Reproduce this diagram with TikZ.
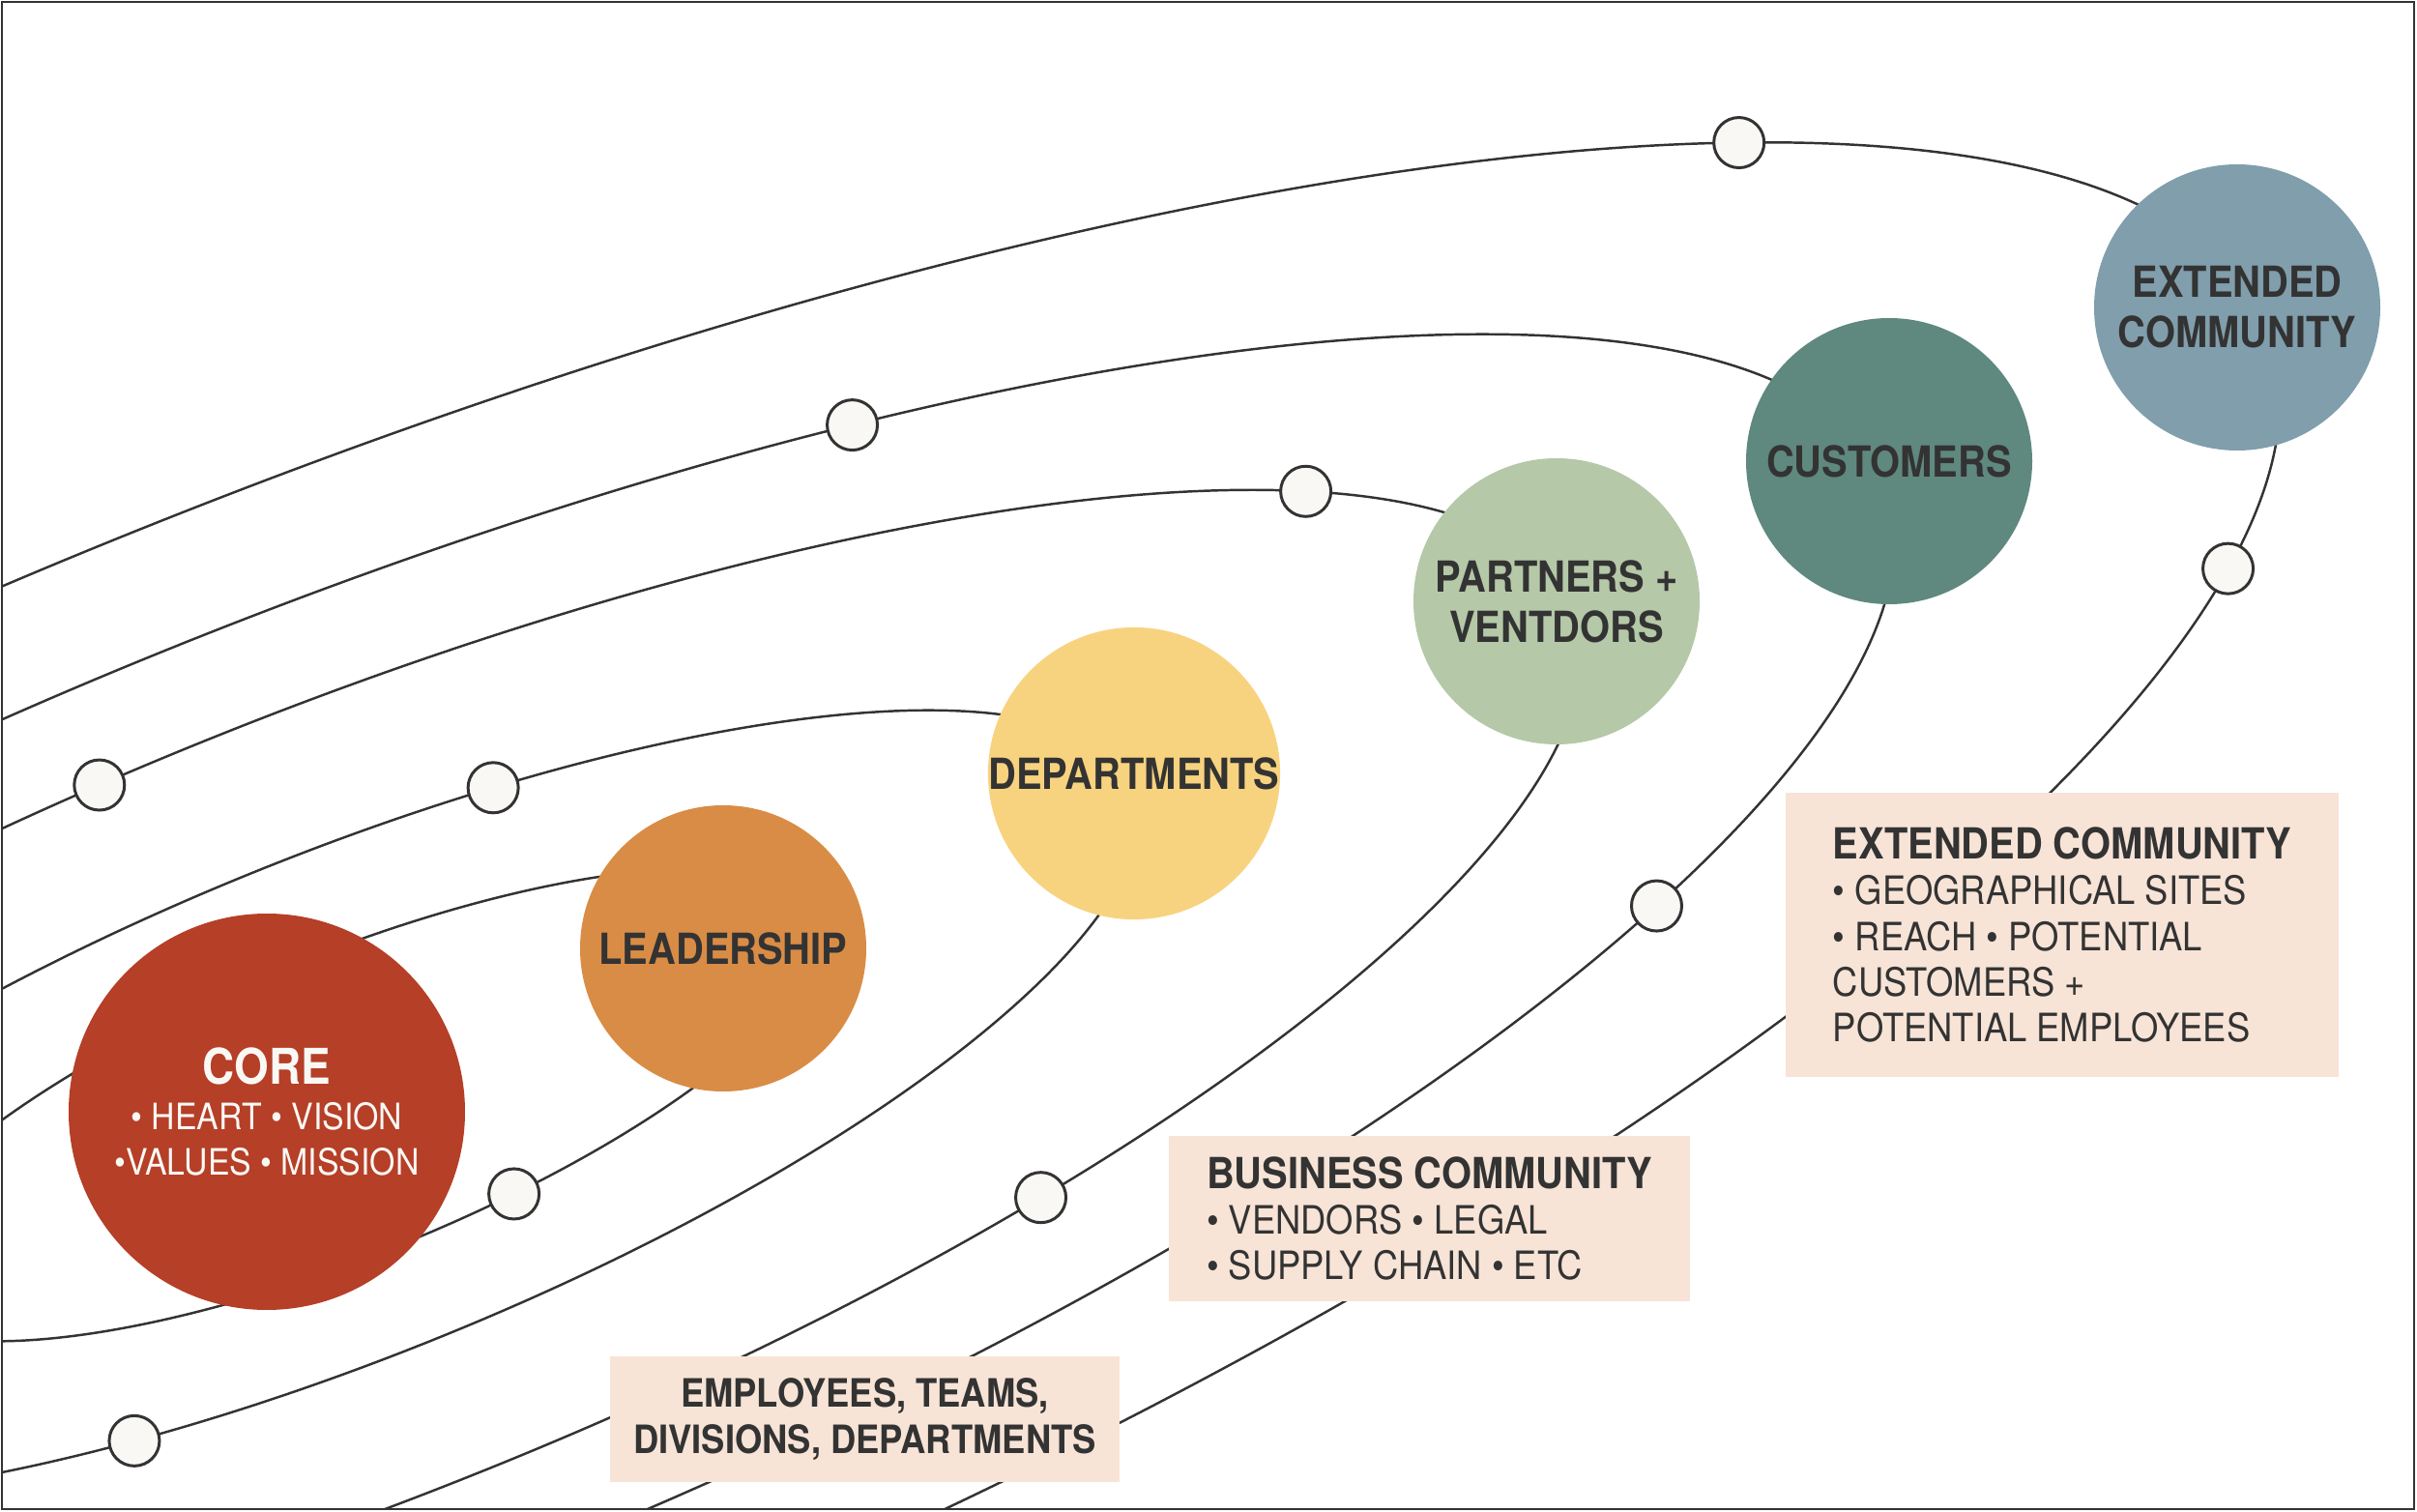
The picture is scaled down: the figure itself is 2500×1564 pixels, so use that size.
\documentclass[tikz,border=0pt]{standalone}
\usepackage{fontspec}
\setmainfont{TeX Gyre Heros}[FakeStretch=0.9]
\usepackage{xcolor}
\usetikzlibrary{backgrounds}

\definecolor{ink}{HTML}{333333}
\definecolor{corered}{HTML}{B53F27}
\definecolor{leadorange}{HTML}{D98C45}
\definecolor{deptyellow}{HTML}{F8D37F}
\definecolor{partnergreen}{HTML}{B5C8A8}
\definecolor{custteal}{HTML}{5F887E}
\definecolor{extblue}{HTML}{809EAC}
\definecolor{boxpeach}{HTML}{F7E4D7}
\definecolor{moonwhite}{HTML}{FAF8F5}

\begin{document}
\begin{tikzpicture}[x=0.1mm, y=-0.1mm,
    planet/.style={circle, minimum size=2.96cm, inner sep=0pt, align=center, text=ink, font=\fontsize{12.6}{14.8}\selectfont\bfseries},
    moon/.style={circle, draw=ink, line width=0.85pt, fill=moonwhite, minimum size=0.52cm, inner sep=0pt},
    infobox/.style={fill=boxpeach, inner sep=0pt, text=ink, font=\fontsize{11.5}{13.4}\selectfont},
    orbit/.style={draw=ink, line width=0.7pt},
    orbitplane/.style={shift={(358,1143)}, x=0.1mm, y=0.1mm, rotate=22.07}]
    \useasboundingbox (0,0) rectangle (2500,1564);

    % Planets
    \node (core) [planet, fill=corered, minimum size=4.1cm, text=moonwhite, font=\fontsize{10.7}{13.3}\selectfont] at (276,1150) {{\fontsize{14.5}{13.3}\selectfont\bfseries CORE}\\• HEART • VISION\\•VALUES • MISSION};
    \node (lead) [planet, fill=leadorange] at (748,981) {LEADERSHIP};
    \node (dept) [planet, fill=deptyellow] at (1173,800) {DEPARTMENTS};
    \node (partner) [planet, fill=partnergreen] at (1610,622) {PARTNERS +\\VENTDORS};
    \node (cust) [planet, fill=custteal] at (1954,477) {CUSTOMERS};
    \node (ext) [planet, fill=extblue] at (2314,318) {EXTENDED\\COMMUNITY};

    % Info boxes
    \node (empbox) [infobox, minimum width=5.27cm, minimum height=1.3cm, align=center, font=\fontsize{11.5}{13.4}\selectfont\bfseries] at (894.5,1468) {EMPLOYEES, TEAMS,\\DIVISIONS, DEPARTMENTS};
    \node (busbox) [infobox, minimum width=5.39cm, minimum height=1.71cm, align=left] at (1478.5,1260.5) {{\fontsize{12.6}{13.4}\selectfont\bfseries BUSINESS COMMUNITY}\\• VENDORS • LEGAL\\• SUPPLY CHAIN • ETC};
    \node (extbox) [infobox, minimum width=5.72cm, minimum height=2.94cm, align=left] at (2133,967) {{\fontsize{12.6}{13.4}\selectfont\bfseries EXTENDED COMMUNITY}\\• GEOGRAPHICAL SITES\\• REACH • POTENTIAL\\CUSTOMERS +\\POTENTIAL EMPLOYEES};

    % Moons
    \begin{scope}[orbitplane]
        \node (m1a) [moon] at (-76.1:526 and 155) {};
        \node (m2a) [moon] at (72.5:879 and 259) {};
        \node (m2b) [moon] at (247.7:879 and 259) {};
        \node (m3a) [moon] at (32.2:1369 and 404) {};
        \node (m3b) [moon] at (94.7:1369 and 404) {};
        \node (m3c) [moon] at (-62.6:1369 and 404) {};
        \node (m4a) [moon] at (64.1:1716 and 506) {};
        \node (m4b) [moon] at (-39.0:1716 and 506) {};
        \node (m5a) [moon] at (37.1:2143 and 632) {};
        \node (m5b) [moon] at (-20.1:2143 and 632) {};
    \end{scope}

    % Orbits
    \begin{scope}[on background layer]
        \clip (2,2) rectangle (2497,1561);
        \begin{scope}[orbitplane]
            \draw [orbit] (0,0) ellipse [x radius=526, y radius=155];
            \draw [orbit] (0,0) ellipse [x radius=879, y radius=259];
            \draw [orbit] (0,0) ellipse [x radius=1369, y radius=404];
            \draw [orbit] (0,0) ellipse [x radius=1716, y radius=506];
            \draw [orbit] (0,0) ellipse [x radius=2143, y radius=632];
        \end{scope}
    \end{scope}

    % Frame
    \draw [ink, line width=0.7pt] (2,2) rectangle (2497,1561);
\end{tikzpicture}
\end{document}
